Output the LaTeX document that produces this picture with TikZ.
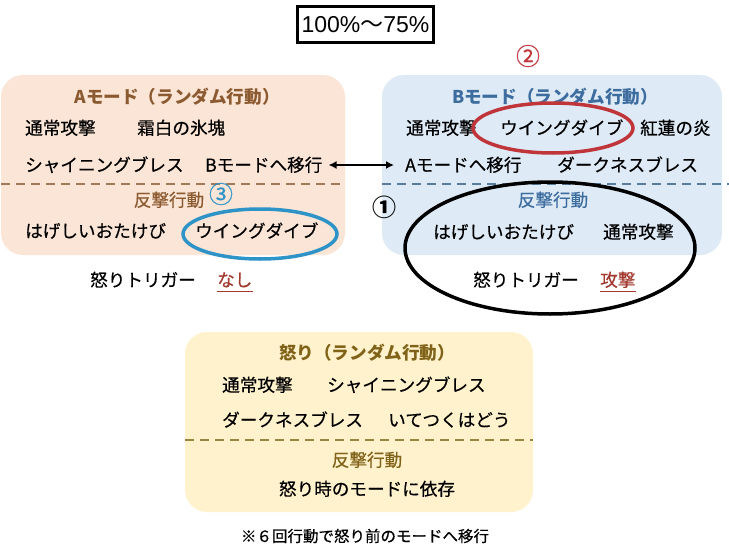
\documentclass[tikz,border=0pt]{standalone}
\usepackage{fontspec}
\setmainfont{Noto Sans CJK JP}[UprightFeatures={FakeBold=0.5}]
\newfontfamily\latinfont{Liberation Sans}
\newfontfamily\cjkplain{Noto Sans CJK JP}
\usetikzlibrary{arrows.meta,shapes.geometric}
\definecolor{aFill}{HTML}{FBE5D6}
\definecolor{bFill}{HTML}{DEEBF7}
\definecolor{cFill}{HTML}{FFF2CC}
\definecolor{aTitle}{HTML}{8C5A30}
\definecolor{bTitle}{HTML}{3D6C9E}
\definecolor{cTitle}{HTML}{806218}
\definecolor{aDash}{HTML}{A07A58}
\definecolor{bDash}{HTML}{5A7C9C}
\definecolor{cDash}{HTML}{9A8540}
\definecolor{redMark}{HTML}{C0353A}
\definecolor{blueMark}{HTML}{2E93C6}
\definecolor{trig}{HTML}{A33A30}
\tikzset{
  modebox/.style={rounded corners=22pt, draw=none},
  txt/.style={inner sep=0pt, anchor=west, font=\fontsize{17.6}{20}\selectfont, text height=15pt, text depth=2pt},
  ttl/.style={inner sep=0pt, anchor=center, font=\fontsize{17.6}{20}\selectfont\bfseries, text height=15pt, text depth=2pt},
  sub/.style={inner sep=0pt, anchor=center, font=\fontsize{17.6}{20}\selectfont, text height=15pt, text depth=2pt},
  sep/.style={line width=1.6pt, dash pattern=on 9pt off 6pt},
  ring/.style={ellipse, draw, line width=3.5pt, inner sep=0pt},
  num/.style={inner sep=0pt, anchor=center, font=\fontsize{24}{26}\selectfont},
  uline/.style={line width=1.1pt, trig}
}
\begin{document}
\begin{tikzpicture}[x=1pt,y=-1pt]
\useasboundingbox (0,0) rectangle (729,554);
\fill[white] (0,0) rectangle (729,554);

% header
\node[draw, line width=3pt, minimum width=136pt, minimum height=36pt, inner sep=0pt] (hdr) at (365.5,24.5)
  {\fontsize{23}{26}\selectfont\latinfont 100\%{\cjkplain ～}75\%};

% ---------- A mode ----------
\fill[aFill, modebox] (1,75) rectangle (345,255);
\node[ttl, aTitle] (aT) at (177,97) {Aモード（ランダム行動）};
\node[txt] (a1) at (25,128) {通常攻撃};
\node[txt] (a2) at (137,128) {霜白の氷塊};
\node[txt] (a3) at (25,165) {シャイニングブレス};
\node[txt] (a4) at (205,165) {Bモードへ移行};
\draw[sep, aDash] (1,184) -- (345,184);
\node[sub, aTitle] (aR) at (169,200) {反撃行動};
\node[num, blueMark] (n3) at (221,194) {③};
\node[txt] (a5) at (25,231) {はげしいおたけび};
\node[txt] (a6) at (195,231) {ウイングダイブ};
\node[ring, blueMark, minimum width=154pt, minimum height=50pt] (eA) at (260,234) {};
\node[txt] (aTr) at (90,280) {怒りトリガー};
\node[txt, trig] (aTv) at (217,280) {なし};
\draw[uline] ([yshift=-3pt]aTv.south west) -- ([yshift=-3pt]aTv.south east);

% ---------- B mode ----------
\fill[bFill, modebox] (382,75) rectangle (722,255);
\node[num, redMark] (n2) at (528,56) {②};
\node[ttl, bTitle] (bT) at (555,97) {Bモード（ランダム行動）};
\node[txt] (b1) at (406,128) {通常攻撃};
\node[txt] (b2) at (500,128) {ウイングダイブ};
\node[txt] (b3) at (640,128) {紅蓮の炎};
\node[ring, redMark, minimum width=160pt, minimum height=50pt] (eB) at (553,128) {};
\node[txt] (b4) at (405,165) {Aモードへ移行};
\node[txt] (b5) at (557,165) {ダークネスブレス};
\draw[sep, bDash] (382,184) -- (729,184);
\node[num, black, font=\fontsize{24}{26}\selectfont\bfseries] (n1) at (384,207) {①};
\node[sub, bTitle] (bR) at (553,200) {反撃行動};
\node[txt] (b6) at (433,232) {はげしいおたけび};
\node[txt] (b7) at (603,232) {通常攻撃};
\node[txt] (bTr) at (473,280) {怒りトリガー};
\node[txt, trig] (bTv) at (600,280) {攻撃};
\draw[uline] ([yshift=-3pt]bTv.south west) -- ([yshift=-3pt]bTv.south east);
\node[ring, black, minimum width=290pt, minimum height=132pt] (eBlack) at (550,248) {};

% arrow between modes
\draw[{Latex[length=8pt,width=8pt]}-{Latex[length=8pt,width=8pt]}, line width=1.5pt, shorten <=6pt, shorten >=11pt] (a4.east) -- (b4.west);

% ---------- Rage ----------
\fill[cFill, modebox] (185,332) rectangle (533,512);
\node[ttl, cTitle] (cT) at (367,353) {怒り（ランダム行動）};
\node[txt] (c1) at (222,385) {通常攻撃};
\node[txt] (c2) at (327,385) {シャイニングブレス};
\node[txt] (c3) at (222,420) {ダークネスブレス};
\node[txt] (c4) at (388,420) {いてつくはどう};
\draw[sep, cDash] (185,440) -- (533,440);
\node[sub, cTitle] (cR) at (367,460) {反撃行動};
\node[sub] (c5) at (367,489) {怒り時のモードに依存};

\node[inner sep=0pt, font=\fontsize{15.5}{18}\selectfont] (note) at (365,536) {※６回行動で怒り前のモードへ移行};
\end{tikzpicture}
\end{document}
